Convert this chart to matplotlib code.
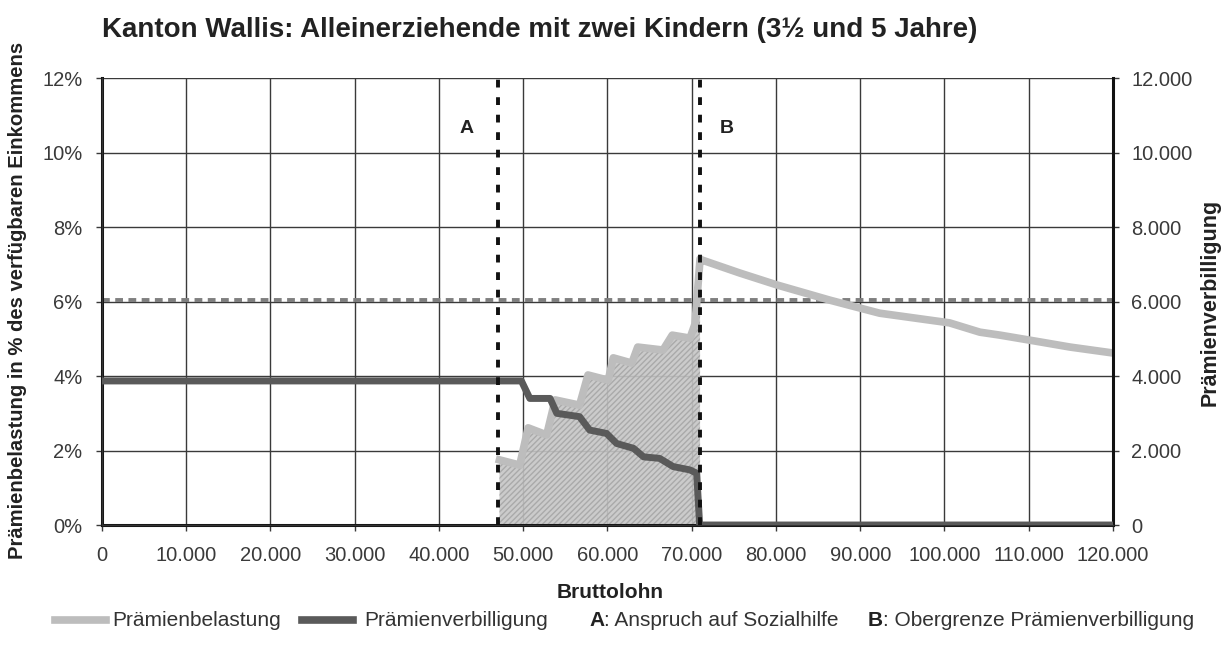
import matplotlib.pyplot as plt
from matplotlib.lines import Line2D

plt.rcParams['font.family'] = ['Liberation Sans', 'DejaVu Sans']

# Prämienbelastung (% of disposable income), left axis
belast_x = [47200, 49600, 50600, 52800, 53800, 56700, 57700, 60100, 60700, 62900,
            63600, 66600, 67700, 69800, 70400, 71000, 71200, 75700, 80100, 86400,
            92300, 100600, 104200, 106600, 111300, 114900, 120000]
belast_y = [1.75, 1.61, 2.61, 2.42, 3.36, 3.22, 4.03, 3.89, 4.49, 4.35,
            4.78, 4.70, 5.10, 5.02, 5.40, 7.15, 7.12, 6.77, 6.45, 6.04,
            5.69, 5.43, 5.18, 5.10, 4.92, 4.78, 4.62]

# Prämienverbilligung (CHF), right axis
verbil_x = [0, 49800, 50800, 53200, 54000, 56700, 57900, 59900, 61100, 63100,
            64300, 66200, 67800, 69800, 70600, 70950, 120000]
verbil_y = [3870, 3870, 3400, 3400, 3000, 2910, 2550, 2460, 2190, 2060,
            1830, 1790, 1570, 1480, 1390, 0, 0]

grenze_a = 47000
grenze_b = 71000
richtwert = 6.05

fig = plt.figure(figsize=(12.27, 6.48), dpi=100)
ax = fig.add_axes([0.0829, 0.1898, 0.8242, 0.6894])
ax2 = ax.twinx()

ax.set_xlim(0, 120000)
ax.set_ylim(0, 12)
ax2.set_ylim(0, 12000)

ax.set_xticks(range(0, 120001, 10000))
ax.set_xticklabels([f"{v:,}".replace(",", ".") for v in range(0, 120001, 10000)])
ax.set_yticks(range(0, 13, 2))
ax.set_yticklabels([f"{v}%" for v in range(0, 13, 2)])
ax2.set_yticks(range(0, 12001, 2000))
ax2.set_yticklabels([f"{v:,}".replace(",", ".") for v in range(0, 12001, 2000)])

ax.grid(True, color='#3a3a3a', linewidth=1.0, zorder=0)
ax.set_axisbelow(True)

for a in (ax, ax2):
    a.tick_params(labelsize=14.5, colors='#3a3a3a', length=4, width=1, direction='out')
    for s in a.spines.values():
        s.set_linewidth(1.0)
        s.set_color('#333333')
ax.spines['left'].set_linewidth(2.2)
ax.spines['left'].set_color('#111111')
ax.spines['bottom'].set_linewidth(2.2)
ax.spines['bottom'].set_color('#111111')
ax2.spines['right'].set_linewidth(2.2)
ax2.spines['right'].set_color('#111111')
ax.spines['top'].set_visible(False)
ax2.spines['top'].set_visible(False)
ax.tick_params(axis='x', pad=11)
ax.tick_params(axis='y', pad=10)
ax2.tick_params(axis='y', pad=9)

# shaded area below Prämienbelastung between A and B
fb_x = [x for x in belast_x if x <= grenze_b]
fb_y = belast_y[:len(fb_x)]
ax.fill_between(fb_x, 0, fb_y, facecolor='#c6c6c6', edgecolor='#a6a6a6',
                hatch='//////', linewidth=0, alpha=0.9, zorder=1)

ax.plot(belast_x, belast_y, color='#bdbdbd', linewidth=5.5, zorder=3,
        solid_joinstyle='round')
ax2.plot(verbil_x, verbil_y, color='#5a5a5a', linewidth=5, zorder=4,
         solid_joinstyle='round')

ax.axhline(richtwert, color='#7f7f7f', linewidth=2.8, dashes=(2.0, 1.4), zorder=2)
ax2.axvline(grenze_a, color='#111111', linewidth=2.8, dashes=(2.0, 2.5), zorder=5)
ax2.axvline(grenze_b, color='#111111', linewidth=2.8, dashes=(2.0, 2.5), zorder=5)

ax.text(43350, 10.66, 'A', fontsize=14, fontweight='bold', color='#222222',
        ha='center', va='center')
ax.text(74200, 10.66, 'B', fontsize=14, fontweight='bold', color='#222222',
        ha='center', va='center')

fig.text(0.083, 0.953, 'Kanton Wallis: Alleinerziehende mit zwei Kindern (3½ und 5 Jahre)',
         fontsize=20, fontweight='bold', color='#222222', ha='left', va='center')
fig.text(0.497, 1 - 592 / 648, 'Bruttolohn', fontsize=15, fontweight='bold',
         color='#222222', ha='center', va='center')
fig.text(18 / 1227, 1 - 300 / 648, 'Prämienbelastung in % des verfügbaren Einkommens',
         fontsize=14.6, fontweight='bold', color='#222222', ha='center', va='center',
         rotation=90)
fig.text(1210 / 1227, 1 - 302 / 648, 'Prämienverbilligung', fontsize=15.5,
         fontweight='bold', color='#222222', ha='center', va='center', rotation=90)

# legend, placed by hand
ly = 1 - 620 / 648
fig.add_artist(Line2D([55 / 1227, 106 / 1227], [ly, ly], color='#bdbdbd', linewidth=5.5))
fig.text(112 / 1227, ly, 'Prämienbelastung', fontsize=15, color='#333333', va='center')
fig.add_artist(Line2D([302 / 1227, 353 / 1227], [ly, ly], color='#5a5a5a', linewidth=5.5))
fig.text(364 / 1227, ly, 'Prämienverbilligung', fontsize=15, color='#333333', va='center')

fig.canvas.draw()
r = fig.canvas.get_renderer()
for x0, key, rest in [(589 / 1227, 'A', ': Anspruch auf Sozialhilfe'),
                      (868 / 1227, 'B', ': Obergrenze Prämienverbilligung')]:
    t = fig.text(x0, ly, key, fontsize=15, fontweight='bold', color='#222222',
                 va='center')
    bb = t.get_window_extent(r)
    fig.text(bb.x1 / fig.bbox.width, ly, rest, fontsize=15, color='#333333',
             va='center')

fig.savefig('out.png', dpi=100)
